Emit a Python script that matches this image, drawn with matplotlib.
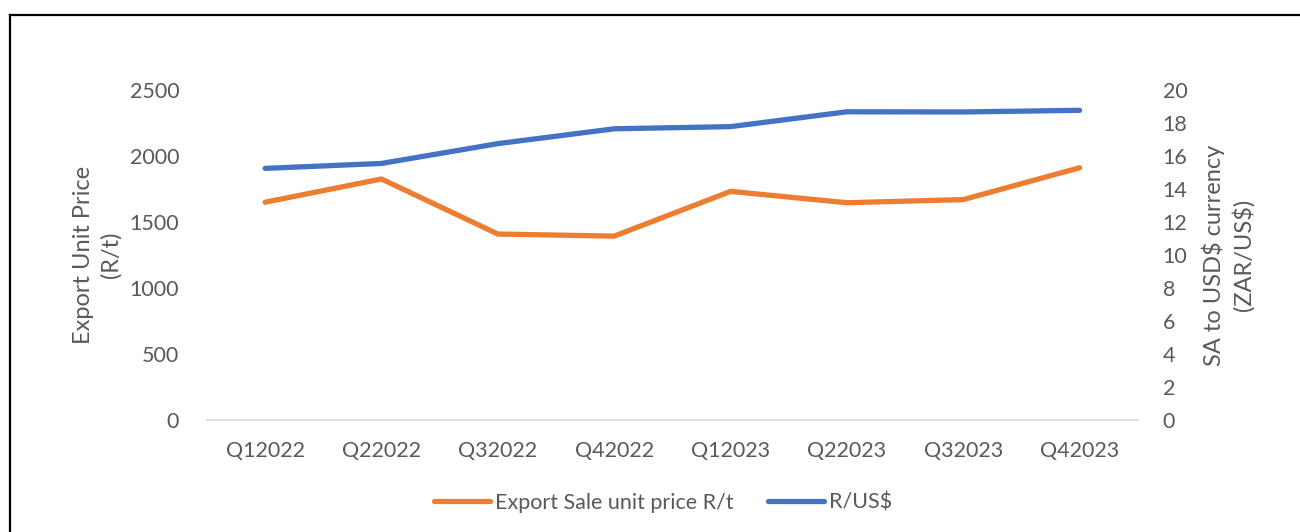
import matplotlib.pyplot as plt
from matplotlib.lines import Line2D

plt.rcParams['font.family'] = ['Lato', 'DejaVu Sans']

# data
quarters = ["Q12022", "Q22022", "Q32022", "Q42022", "Q12023", "Q22023", "Q32023", "Q42023"]
export_price = [1650, 1826, 1409, 1393, 1732, 1646, 1670, 1911]   # R/t, left axis
zar_usd = [15.25, 15.55, 16.75, 17.65, 17.78, 18.68, 18.67, 18.77]  # right axis

orange = "#ED7D31"
blue = "#4472C4"
grey = "#595959"
fs = 15.5
label_fs = 17

fig = plt.figure(figsize=(13, 5.32), dpi=100)
ax = fig.add_axes([0.1592, 0.2105, 0.716, 0.6203])
ax2 = ax.twinx()

x = list(range(len(quarters)))
ax.plot(x, export_price, color=orange, linewidth=3.8, solid_capstyle='round', solid_joinstyle='round')
ax2.plot(x, zar_usd, color=blue, linewidth=3.8, solid_capstyle='round', solid_joinstyle='round')

ax.set_xlim(-0.5, len(quarters) - 0.5)
ax.set_ylim(0, 2500)
ax2.set_ylim(0, 20)
ax.set_yticks(range(0, 2501, 500))
ax2.set_yticks(range(0, 21, 2))
ax.set_xticks(x)
ax.set_xticklabels(quarters)

for a in (ax, ax2):
    for s in a.spines.values():
        s.set_visible(False)
    a.tick_params(length=0, labelsize=fs, labelcolor=grey)
ax.spines['bottom'].set_visible(True)
ax.spines['bottom'].set_color("#D9D9D9")
ax.spines['bottom'].set_linewidth(1.2)
ax.tick_params(axis='x', pad=15)
ax.tick_params(axis='y', pad=20)
ax2.tick_params(axis='y', pad=18)

ax.set_ylabel("Export Unit Price\n(R/t)", fontsize=label_fs, color=grey, labelpad=6, linespacing=1.35)
ax2.set_ylabel("SA to USD$ currency\n(ZAR/US$)", fontsize=label_fs, color=grey, labelpad=10, linespacing=1.35)

handles = [Line2D([], [], color=orange, linewidth=3.8, solid_capstyle='round'),
           Line2D([], [], color=blue, linewidth=3.8, solid_capstyle='round')]
leg = fig.legend(handles, ["Export Sale unit price R/t", "R/US$"], loc='center',
                 bbox_to_anchor=(0.51, 0.055), ncol=2, frameon=False, fontsize=fs,
                 handlelength=2.6, handletextpad=0.25, columnspacing=1.6)
for t in leg.get_texts():
    t.set_color(grey)

# outer frame (top and left edges visible)
fig.add_artist(Line2D([10 / 1300, 1.0], [1 - 15 / 532, 1 - 15 / 532], transform=fig.transFigure, color="black", linewidth=1.6))
fig.add_artist(Line2D([10 / 1300, 10 / 1300], [0.0, 1 - 15 / 532], transform=fig.transFigure, color="black", linewidth=1.6))

fig.savefig("out.png", dpi=100)
